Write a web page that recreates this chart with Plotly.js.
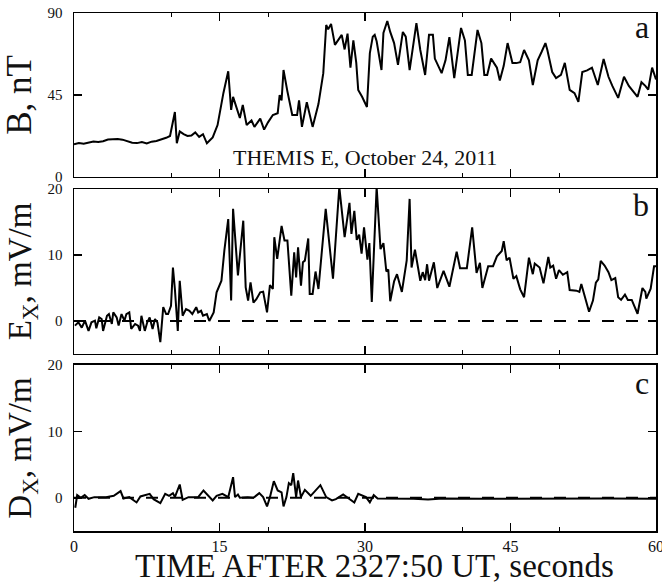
<!DOCTYPE html>
<html>
<head>
<meta charset="utf-8">
<script src="https://cdn.plot.ly/plotly-3.0.1.min.js"></script>
<style>html,body{margin:0;padding:0;background:#fff;}#chart{width:662px;height:582px;}</style>
</head>
<body>
<div id="chart"></div>
<script>
// Panel a: magnetic field B, nT
const tA = [0,0.5,1,1.5,2,2.5,3,3.5,4,4.5,
  5,5.5,6,6.5,7,7.5,8,8.5,9,9.5,
  9.9,10.4,10.6,10.9,11.3,11.7,12.1,12.5,12.9,13.3,
  13.7,14.0,14.3,14.8,15.4,15.9,16.2,16.4,16.8,17.1,
  17.4,17.8,18.3,18.6,19.2,19.6,20,20.5,21,21.2,
  21.4,21.6,22,22.5,23,23.2,23.5,24,24.6,25.2,
  25.7,26,26.2,26.5,26.9,27.3,27.6,27.9,28.2,28.5,
  28.8,29.1,29.3,29.7,30.2,30.5,30.8,31,31.2,31.7,
  31.9,32.3,32.6,33,33.4,33.9,34.2,34.6,35.3,35.7,
  36.2,36.6,37,37.2,37.9,38.3,38.7,39.2,39.9,40.3,
  40.6,41,41.6,42,42.3,42.6,43,43.3,43.6,43.9,
  44.3,44.7,45.2,45.6,46,46.4,46.9,47.3,47.8,48.2,
  48.6,48.8,49.3,49.7,50.2,50.6,51.1,51.6,52,52.4,
  52.9,53.4,54,54.6,55.1,55.5,56.1,56.7,57.2,58.1,
  58.5,58.9,59.2,59.6,60];
const bA = [18,18.6,18.2,19,19.5,19.2,19.6,20.6,20.8,20.9,
  20.5,19.8,18.8,18.6,19.2,18.4,19.4,19.8,20.6,21.5,
  22.5,35.7,18.5,25,23.5,22.5,22.8,24.5,22,23.5,
  18.5,20,21.7,28.5,46,58,36.8,44,38,32.4,
  39.5,28.5,31,27.5,32,26,30,34,35,45,
  42,58.7,47,34,34,42,27.5,41,27.5,40,
  57,83.4,81,84,72.5,76,78,70,78.7,60,
  75,62.6,47.8,44,38.4,68,77,78,74.5,58.7,
  79,85.6,79.6,73.5,61.5,79.6,77,58.7,84.5,69.7,
  56,78,78,65,57,64,76.8,54.3,81.8,75,
  56,56,80.7,73.5,56,56,65,62.5,60,53,
  61,73.5,62.5,62.5,63,69.7,64,50.5,64,68.6,
  73.5,69.7,57.6,54.3,56,62.6,47.8,46,41.2,57.6,
  58.5,60,50.5,64.8,55,50,43.4,55,50,44,
  52,50,48,60,53.5];

// Panel b: electric field Ex, mV/m
const tE = [0.1,0.45,0.8,1.13,1.5,1.8,2.16,2.3,2.6,2.85,
  3.0,3.4,3.6,3.9,4.05,4.4,4.6,4.9,5.2,5.4,
  5.7,5.9,6.3,6.6,6.8,6.95,7.3,7.55,7.8,8.1,
  8.35,8.6,8.9,9.2,9.5,9.7,10.0,10.2,10.4,10.7,
  10.9,11.2,11.55,11.9,12.2,12.6,12.8,13.1,13.3,13.7,
  13.95,14.4,14.7,15.2,15.5,15.9,16.2,16.4,16.9,17.45,
  17.7,17.95,18.2,18.5,18.8,19.2,19.5,19.9,20.2,20.5,
  20.65,20.95,21.4,21.7,22.0,22.4,22.7,22.9,23.1,23.4,
  23.6,23.8,24.15,24.3,24.6,24.9,25.2,25.7,25.95,26.7,
  27.35,27.9,28.4,28.6,28.9,29.15,29.4,29.65,29.9,30.25,
  30.45,30.7,31.2,31.6,31.9,32.2,32.4,32.6,33.0,33.3,
  33.8,34.3,34.6,34.8,35.15,35.7,35.95,36.2,36.4,36.6,
  37.1,37.45,38.1,38.7,39.45,39.8,40.5,41.05,41.5,41.85,
  42.1,42.7,43.2,43.6,44.1,44.3,44.6,44.9,45.3,45.6,
  46.0,46.4,46.9,47.3,47.5,48.0,48.4,48.9,49.1,49.4,
  49.7,50.0,50.4,50.85,51.1,51.8,52.1,52.3,53.1,53.5,
  53.8,54.05,54.3,54.7,55.1,55.4,55.8,56.1,56.4,56.8,
  57.1,57.5,58.1,58.6,58.9,59.0,59.45,59.8,60];
const eX = [-0.7,-0.2,-1.0,0.05,-1.5,-0.2,0.05,-1.1,0.55,0.3,
  -1.5,0.8,1.05,-0.45,1.3,0.55,-0.7,1.05,0.05,1.05,
  1.3,-1.2,-0.45,-0.7,-1.5,0.8,-1.5,-0.2,0.55,-1.2,
  0.3,-0.2,-3.2,2.1,1.05,1.05,2.3,8.1,4.85,-1.5,
  6.1,0.8,1.8,1.55,1.05,2.1,1.3,1.55,0.8,1.05,
  0,1.3,4.35,6.1,10.65,15.45,3.1,17.0,6.9,15.2,
  5.1,3.1,5.85,2.8,3.3,4.35,4.45,1.3,5.45,4.85,
  12.7,9.4,14.4,12.2,12.2,3.85,10.4,6.6,11.15,5.35,
  8.9,9.15,12.5,4.1,4.1,7.5,4.85,12.4,17.0,6.4,
  20.3,12.7,17.9,13.2,16.7,12.3,13.1,10.2,14.2,9.3,
  11.8,2.9,20.3,10.9,11.8,7.5,7.8,3.0,6.0,7.1,
  4.4,9.2,18.5,8.1,10.8,6.1,7.4,6.2,8.6,6.1,
  8.9,5.0,7.6,5.2,10.5,8.0,8.0,14.2,7.3,8.8,
  5.0,8.3,8.3,9.8,10.6,12.1,9.2,9.6,6.4,6.8,
  4.8,3.6,9.6,7.1,8.7,8.1,5.7,9.7,8.1,8.4,
  6.4,7.7,7.0,7.4,4.7,4.6,4.4,5.6,1.4,3.1,
  5.8,6.3,9.1,8.4,7.4,6.2,6.5,3.6,3.2,4.0,
  3.2,3.2,1.1,5.0,4.4,3.4,4.9,8.3,8.3];

// Panel c: Dx, mV/m
const tD = [0.13,0.33,0.7,1.1,1.5,2.1,3.3,4.1,4.8,5.1,
  5.7,6.45,6.85,7.8,8.2,8.9,9.4,9.8,10.2,10.4,
  10.9,11.2,11.8,12.8,13.35,13.7,14.3,14.7,15.3,15.9,
  16.4,16.6,16.9,17.1,17.9,18.5,19.1,19.5,19.9,20.2,
  20.6,21.0,21.4,21.6,21.9,22.15,22.4,22.6,22.9,23.1,
  23.4,23.8,24.4,25.4,26.0,26.6,27.0,27.75,28.5,28.9,
  29.3,29.7,30.1,30.5,30.9,31.3,33,35,36.5,38,
  42,46,50,55,60];
const dX = [-1.5,0.4,0,0.4,-0.15,0.1,0.1,0.3,1.0,-0.1,
  0.1,-0.7,0.2,0.6,-0.2,-0.8,0.6,0.3,0.7,0.1,
  2.0,-0.3,0.1,0.1,1.1,0.5,-0.4,0.3,0.6,0.1,
  3.1,0.1,0.5,0,0.1,0,0.7,0.1,-1.3,0.1,
  2.5,1.1,0.8,-1.3,0.1,2.2,1.9,3.7,0.1,2.6,
  0.1,1.2,0.3,1.9,0.1,-0.4,-0.2,0.5,-0.3,-0.7,
  0.6,0.3,0.1,-0.7,0.4,-0.1,-0.1,-0.15,-0.25,-0.1,
  -0.15,-0.1,-0.15,-0.1,-0.15];

const zeroT = [0, 60];
const zeroV = [0, 0];

const serif = '"Liberation Serif", "Times New Roman", serif';
const lineStyle = {color: '#000', width: 2};
const dashStyle = {color: '#000', width: 2, dash: '12px,12px'};

const traces = [
  {x: tA, y: bA, xaxis: 'x', yaxis: 'y', mode: 'lines', line: lineStyle, hoverinfo: 'skip'},
  {x: zeroT, y: zeroV, xaxis: 'x2', yaxis: 'y2', mode: 'lines', line: dashStyle, hoverinfo: 'skip'},
  {x: tE, y: eX, xaxis: 'x2', yaxis: 'y2', mode: 'lines', line: lineStyle, hoverinfo: 'skip'},
  {x: zeroT, y: zeroV, xaxis: 'x3', yaxis: 'y3', mode: 'lines', line: dashStyle, hoverinfo: 'skip'},
  {x: tD, y: dX, xaxis: 'x3', yaxis: 'y3', mode: 'lines', line: lineStyle, hoverinfo: 'skip'}
];

function xax(anchor, show) {
  return {
    anchor: anchor, domain: [0, 1], range: [0, 60],
    showgrid: false, zeroline: false,
    showline: true, linecolor: '#000', linewidth: 1.5, mirror: 'ticks',
    ticks: 'inside', ticklen: 8, tickwidth: 1.5, tickcolor: '#000',
    tickvals: [0, 15, 30, 45, 60],
    showticklabels: show,
    ticklabeloverflow: 'allow',
    tickfont: {family: serif, size: 16, color: '#111'},
    minor: {tickvals: [10, 20, 40, 50], ticklen: 4, tickwidth: 1, tickcolor: '#000', ticks: 'inside'}
  };
}
function yax(anchor, domain, range, tickvals, title, tsize) {
  return {
    anchor: anchor, domain: domain, range: range,
    showgrid: false, zeroline: false,
    showline: true, linecolor: '#000', linewidth: 1.5, mirror: 'ticks',
    ticks: 'inside', ticklen: 8, tickwidth: 1.5, tickcolor: '#000',
    tickvals: tickvals,
    ticklabeloverflow: 'allow',
    tickfont: {family: serif, size: 15, color: '#111'},
    ticklabelstandoff: 7,
    title: {text: title, font: {family: serif, size: tsize, color: '#111'}, standoff: 6}
  };
}

const layout = {
  width: 662, height: 582,
  margin: {l: 74, r: 6, t: 13, b: 51},
  paper_bgcolor: '#fff', plot_bgcolor: '#fff',
  showlegend: false,
  xaxis: xax('y', false),
  xaxis2: xax('y2', false),
  xaxis3: xax('y3', true),
  yaxis: yax('x', [0.6834, 1], [0, 90], [0, 45, 90], 'B, nT', 35),
  yaxis2: yax('x2', [0.3417, 0.6602], [-5, 20], [0, 10, 20], 'E<sub>X</sub>, mV/m', 33),
  yaxis3: yax('x3', [0, 0.3205], [-5, 20], [0, 10, 20], 'D<sub>X</sub>, mV/m', 33),
  annotations: [
    {xref: 'paper', yref: 'paper', x: 0.992, y: 1, yshift: 6, xanchor: 'right', yanchor: 'top', showarrow: false,
     text: 'a', font: {family: serif, size: 32, color: '#111'}},
    {xref: 'paper', yref: 'paper', x: 0.992, y: 0.6602, yshift: 4, xanchor: 'right', yanchor: 'top', showarrow: false,
     text: 'b', font: {family: serif, size: 32, color: '#111'}},
    {xref: 'paper', yref: 'paper', x: 0.992, y: 0.3205, yshift: 2, xanchor: 'right', yanchor: 'top', showarrow: false,
     text: 'c', font: {family: serif, size: 32, color: '#111'}},
    {xref: 'x', yref: 'y', x: 30, y: 3, xanchor: 'center', yanchor: 'bottom', showarrow: false,
     text: 'THEMIS E, October 24, 2011', font: {family: serif, size: 22, color: '#111'}},
    {xref: 'paper', yref: 'paper', x: 0.517, y: 0, yshift: -35, xanchor: 'center', yanchor: 'middle', showarrow: false,
     text: 'TIME AFTER 2327:50 UT, seconds', font: {family: serif, size: 33, color: '#111'}}
  ]
};

Plotly.newPlot('chart', traces, layout, {staticPlot: true, displayModeBar: false});
</script>
</body>
</html>
